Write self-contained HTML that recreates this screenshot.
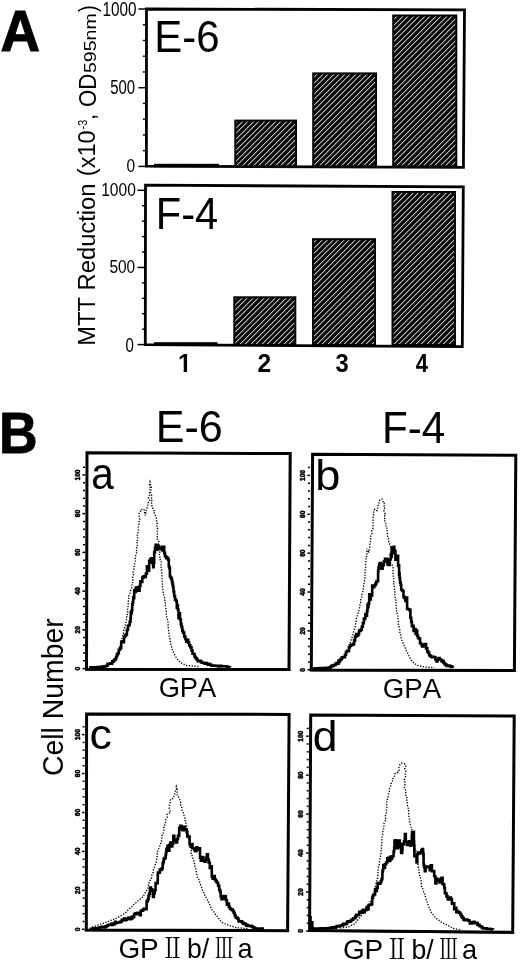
<!DOCTYPE html>
<html><head><meta charset="utf-8"><title>Figure</title>
<style>
html,body{margin:0;padding:0;background:#fff;}
body{width:520px;height:963px;overflow:hidden;}
svg{display:block;font-family:"Liberation Sans",Arial,sans-serif;font-kerning:none;}
</style></head><body>
<svg width="520" height="963" viewBox="0 0 520 963">
<defs>
<pattern id="hatch" patternUnits="userSpaceOnUse" width="11" height="11" shape-rendering="crispEdges">
<rect width="11" height="11" fill="#0b0b0b"/>
<rect x="0" y="0" width="1" height="1" fill="#c4c4c4"/>
<rect x="1" y="0" width="1" height="1" fill="#4c4c4c"/>
<rect x="5" y="0" width="1" height="1" fill="#c4c4c4"/>
<rect x="6" y="0" width="1" height="1" fill="#4c4c4c"/>
<rect x="10" y="1" width="1" height="1" fill="#c4c4c4"/>
<rect x="0" y="1" width="1" height="1" fill="#4c4c4c"/>
<rect x="4" y="1" width="1" height="1" fill="#c4c4c4"/>
<rect x="5" y="1" width="1" height="1" fill="#4c4c4c"/>
<rect x="9" y="2" width="1" height="1" fill="#c4c4c4"/>
<rect x="10" y="2" width="1" height="1" fill="#4c4c4c"/>
<rect x="3" y="2" width="1" height="1" fill="#c4c4c4"/>
<rect x="4" y="2" width="1" height="1" fill="#4c4c4c"/>
<rect x="8" y="3" width="1" height="1" fill="#c4c4c4"/>
<rect x="9" y="3" width="1" height="1" fill="#4c4c4c"/>
<rect x="2" y="3" width="1" height="1" fill="#c4c4c4"/>
<rect x="3" y="3" width="1" height="1" fill="#4c4c4c"/>
<rect x="7" y="4" width="1" height="1" fill="#c4c4c4"/>
<rect x="8" y="4" width="1" height="1" fill="#4c4c4c"/>
<rect x="1" y="4" width="1" height="1" fill="#c4c4c4"/>
<rect x="2" y="4" width="1" height="1" fill="#4c4c4c"/>
<rect x="6" y="5" width="1" height="1" fill="#c4c4c4"/>
<rect x="7" y="5" width="1" height="1" fill="#4c4c4c"/>
<rect x="0" y="5" width="1" height="1" fill="#c4c4c4"/>
<rect x="1" y="5" width="1" height="1" fill="#4c4c4c"/>
<rect x="5" y="6" width="1" height="1" fill="#c4c4c4"/>
<rect x="6" y="6" width="1" height="1" fill="#4c4c4c"/>
<rect x="10" y="6" width="1" height="1" fill="#c4c4c4"/>
<rect x="0" y="6" width="1" height="1" fill="#4c4c4c"/>
<rect x="4" y="7" width="1" height="1" fill="#c4c4c4"/>
<rect x="5" y="7" width="1" height="1" fill="#4c4c4c"/>
<rect x="9" y="7" width="1" height="1" fill="#c4c4c4"/>
<rect x="10" y="7" width="1" height="1" fill="#4c4c4c"/>
<rect x="3" y="8" width="1" height="1" fill="#c4c4c4"/>
<rect x="4" y="8" width="1" height="1" fill="#4c4c4c"/>
<rect x="8" y="8" width="1" height="1" fill="#c4c4c4"/>
<rect x="9" y="8" width="1" height="1" fill="#4c4c4c"/>
<rect x="2" y="9" width="1" height="1" fill="#c4c4c4"/>
<rect x="3" y="9" width="1" height="1" fill="#4c4c4c"/>
<rect x="7" y="9" width="1" height="1" fill="#c4c4c4"/>
<rect x="8" y="9" width="1" height="1" fill="#4c4c4c"/>
<rect x="1" y="10" width="1" height="1" fill="#c4c4c4"/>
<rect x="2" y="10" width="1" height="1" fill="#4c4c4c"/>
<rect x="6" y="10" width="1" height="1" fill="#c4c4c4"/>
<rect x="7" y="10" width="1" height="1" fill="#4c4c4c"/>
</pattern>
</defs>
<rect width="520" height="963" fill="#fff"/>
<text transform="translate(1.75,50.50) scale(0.9565,1) translate(-1.43,0)" font-size="57.26744186046512" font-weight="bold" fill="#000" stroke="#000" stroke-width="1.0" stroke-linejoin="miter">A</text>
<path d="M146.5 9.0L464.5 9.8L463.4 167.4L146.4 166.2Z" fill="none" stroke="#000" stroke-width="2.8" stroke-linejoin="miter"/>
<line x1="138.4" y1="166.40" x2="146.4" y2="166.40" stroke="#000" stroke-width="1.5"/>
<line x1="142.9" y1="150.66" x2="146.4" y2="150.66" stroke="#000" stroke-width="1.4"/>
<line x1="142.9" y1="134.92" x2="146.4" y2="134.92" stroke="#000" stroke-width="1.4"/>
<line x1="142.9" y1="119.18" x2="146.4" y2="119.18" stroke="#000" stroke-width="1.4"/>
<line x1="142.9" y1="103.44" x2="146.4" y2="103.44" stroke="#000" stroke-width="1.4"/>
<line x1="138.4" y1="87.70" x2="146.4" y2="87.70" stroke="#000" stroke-width="1.5"/>
<line x1="142.9" y1="71.96" x2="146.4" y2="71.96" stroke="#000" stroke-width="1.4"/>
<line x1="142.9" y1="56.22" x2="146.4" y2="56.22" stroke="#000" stroke-width="1.4"/>
<line x1="142.9" y1="40.48" x2="146.4" y2="40.48" stroke="#000" stroke-width="1.4"/>
<line x1="142.9" y1="24.74" x2="146.4" y2="24.74" stroke="#000" stroke-width="1.4"/>
<line x1="138.4" y1="9.00" x2="146.4" y2="9.00" stroke="#000" stroke-width="1.5"/>
<rect x="155" y="164.8" width="63" height="1.5" fill="url(#hatch)" stroke="#000" stroke-width="2"/>
<rect x="235.3" y="120.6" width="60.69999999999999" height="45.70000000000002" fill="url(#hatch)" stroke="#000" stroke-width="2"/>
<rect x="313.2" y="73.4" width="62.80000000000001" height="92.9" fill="url(#hatch)" stroke="#000" stroke-width="2"/>
<rect x="393.2" y="15.5" width="63.10000000000002" height="150.8" fill="url(#hatch)" stroke="#000" stroke-width="2"/>
<text transform="translate(157.70,51.90) scale(0.9622,1) translate(-3.58,0)" font-size="43.6" fill="#000" >E-6</text>
<text transform="translate(103.70,15.56) scale(0.7885,1) translate(-1.48,0)" font-size="19.42" fill="#000" >1000</text>
<text transform="translate(110.80,94.01) scale(0.7628,1) translate(-0.79,0)" font-size="19.63" fill="#000" >500</text>
<text transform="translate(127.00,172.32) scale(0.8178,1) translate(-0.74,0)" font-size="18.93" fill="#000" >0</text>
<path d="M145.5 185.2L463.3 186.8L462.3 346.7L145.3 344.7Z" fill="none" stroke="#000" stroke-width="2.8" stroke-linejoin="miter"/>
<line x1="137.5" y1="344.60" x2="145.5" y2="344.60" stroke="#000" stroke-width="1.5"/>
<line x1="142.0" y1="329.17" x2="145.5" y2="329.17" stroke="#000" stroke-width="1.4"/>
<line x1="142.0" y1="313.74" x2="145.5" y2="313.74" stroke="#000" stroke-width="1.4"/>
<line x1="142.0" y1="298.31" x2="145.5" y2="298.31" stroke="#000" stroke-width="1.4"/>
<line x1="142.0" y1="282.88" x2="145.5" y2="282.88" stroke="#000" stroke-width="1.4"/>
<line x1="137.5" y1="267.45" x2="145.5" y2="267.45" stroke="#000" stroke-width="1.5"/>
<line x1="142.0" y1="252.02" x2="145.5" y2="252.02" stroke="#000" stroke-width="1.4"/>
<line x1="142.0" y1="236.59" x2="145.5" y2="236.59" stroke="#000" stroke-width="1.4"/>
<line x1="142.0" y1="221.16" x2="145.5" y2="221.16" stroke="#000" stroke-width="1.4"/>
<line x1="142.0" y1="205.73" x2="145.5" y2="205.73" stroke="#000" stroke-width="1.4"/>
<line x1="137.5" y1="190.30" x2="145.5" y2="190.30" stroke="#000" stroke-width="1.5"/>
<rect x="155" y="343.2" width="61.5" height="1.8000000000000114" fill="url(#hatch)" stroke="#000" stroke-width="2"/>
<rect x="234.3" y="297.3" width="61.0" height="47.69999999999999" fill="url(#hatch)" stroke="#000" stroke-width="2"/>
<rect x="313" y="239.2" width="62" height="105.80000000000001" fill="url(#hatch)" stroke="#000" stroke-width="2"/>
<rect x="392.5" y="192" width="62.5" height="153.0" fill="url(#hatch)" stroke="#000" stroke-width="2"/>
<text transform="translate(159.20,229.20) scale(0.9546,1) translate(-3.58,0)" font-size="43.6" fill="#000" >F-4</text>
<text transform="translate(102.40,196.02) scale(0.8214,1) translate(-1.44,0)" font-size="18.93" fill="#000" >1000</text>
<text transform="translate(110.00,272.72) scale(0.8176,1) translate(-0.76,0)" font-size="18.93" fill="#000" >500</text>
<text transform="translate(126.00,351.56) scale(0.7756,1) translate(-0.76,0)" font-size="19.42" fill="#000" >0</text>
<text transform="translate(258.40,371.80) scale(0.9319,1) translate(-0.91,0)" font-size="26.3" font-weight="bold" fill="#000" >2</text>
<text transform="translate(336.10,371.80) scale(0.9026,1) translate(-0.60,0)" font-size="26.3" font-weight="bold" fill="#000" >3</text>
<text transform="translate(416.10,371.80) scale(0.8376,1) translate(-0.40,0)" font-size="26.3" font-weight="bold" fill="#000" >4</text>
<clipPath id="one"><rect x="170" y="340" width="30" height="28.32"/><rect x="183.64" y="340" width="3.36" height="40"/></clipPath>
<g clip-path="url(#one)"><text transform="translate(177.93,371.8) scale(0.9309,1)" font-size="26.3" font-weight="bold">1</text></g>
<text transform="translate(95.20,343.80) rotate(-90) scale(0.9893,1) translate(-1.97,0)" font-size="24" fill="#000" >MTT Reduction</text>
<text transform="translate(95.40,174.70) rotate(-90) scale(0.9783,1) translate(-1.49,0)" font-size="24" fill="#000" >(x10</text>
<text transform="translate(87.40,128.90) rotate(-90) scale(0.8555,1) translate(-0.56,0)" font-size="12.7" fill="#000" >-3</text>
<text transform="translate(95.40,118.00) rotate(-90) scale(1.0000,1) translate(-2.16,0)" font-size="24" fill="#000" >,</text>
<text transform="translate(95.80,106.00) rotate(-90) scale(0.9254,1) translate(-1.14,0)" font-size="24" fill="#000" >OD</text>
<text transform="translate(95.60,72.30) rotate(-90) scale(1.1519,1) translate(-0.68,0)" font-size="17" fill="#000" >595nm</text>
<text transform="translate(95.60,12.00) rotate(-90) scale(0.8486,1) translate(-0.14,0)" font-size="24" fill="#000" >)</text>
<text transform="translate(2.65,452.70) scale(0.9382,1) translate(-3.81,0)" font-size="56.97674418604652" font-weight="bold" fill="#000" stroke="#000" stroke-width="0.8" stroke-linejoin="miter">B</text>
<text transform="translate(159.20,442.00) scale(0.9879,1) translate(-3.58,0)" font-size="43.6" fill="#000" >E-6</text>
<text transform="translate(385.40,442.70) scale(0.9679,1) translate(-3.58,0)" font-size="43.6" fill="#000" >F-4</text>
<text transform="translate(62.70,774.60) rotate(-90) scale(0.9930,1) translate(-1.45,0)" font-size="28.6" fill="#000" >Cell Number</text>
<path d="M87 452.8L290.2 453.5L289 669.5L86.5 669.2Z" fill="none" stroke="#000" stroke-width="3" stroke-linejoin="miter"/>
<line x1="85.0" y1="669.8000000000001" x2="290.5" y2="670.1" stroke="#000" stroke-width="1.4"/>
<line x1="82.40" y1="668.60" x2="85.0" y2="668.60" stroke="#000" stroke-width="1.5"/>
<line x1="83.00" y1="660.85" x2="85.0" y2="660.85" stroke="#000" stroke-width="1.5"/>
<line x1="83.00" y1="653.10" x2="85.0" y2="653.10" stroke="#000" stroke-width="1.5"/>
<line x1="83.00" y1="645.36" x2="85.0" y2="645.36" stroke="#000" stroke-width="1.5"/>
<line x1="83.00" y1="637.61" x2="85.0" y2="637.61" stroke="#000" stroke-width="1.5"/>
<line x1="82.40" y1="629.86" x2="85.0" y2="629.86" stroke="#000" stroke-width="1.5"/>
<line x1="83.00" y1="622.11" x2="85.0" y2="622.11" stroke="#000" stroke-width="1.5"/>
<line x1="83.00" y1="614.36" x2="85.0" y2="614.36" stroke="#000" stroke-width="1.5"/>
<line x1="83.00" y1="606.62" x2="85.0" y2="606.62" stroke="#000" stroke-width="1.5"/>
<line x1="83.00" y1="598.87" x2="85.0" y2="598.87" stroke="#000" stroke-width="1.5"/>
<line x1="82.40" y1="591.12" x2="85.0" y2="591.12" stroke="#000" stroke-width="1.5"/>
<line x1="83.00" y1="583.37" x2="85.0" y2="583.37" stroke="#000" stroke-width="1.5"/>
<line x1="83.00" y1="575.62" x2="85.0" y2="575.62" stroke="#000" stroke-width="1.5"/>
<line x1="83.00" y1="567.88" x2="85.0" y2="567.88" stroke="#000" stroke-width="1.5"/>
<line x1="83.00" y1="560.13" x2="85.0" y2="560.13" stroke="#000" stroke-width="1.5"/>
<line x1="82.40" y1="552.38" x2="85.0" y2="552.38" stroke="#000" stroke-width="1.5"/>
<line x1="83.00" y1="544.63" x2="85.0" y2="544.63" stroke="#000" stroke-width="1.5"/>
<line x1="83.00" y1="536.88" x2="85.0" y2="536.88" stroke="#000" stroke-width="1.5"/>
<line x1="83.00" y1="529.14" x2="85.0" y2="529.14" stroke="#000" stroke-width="1.5"/>
<line x1="83.00" y1="521.39" x2="85.0" y2="521.39" stroke="#000" stroke-width="1.5"/>
<line x1="82.40" y1="513.64" x2="85.0" y2="513.64" stroke="#000" stroke-width="1.5"/>
<line x1="83.00" y1="505.89" x2="85.0" y2="505.89" stroke="#000" stroke-width="1.5"/>
<line x1="83.00" y1="498.14" x2="85.0" y2="498.14" stroke="#000" stroke-width="1.5"/>
<line x1="83.00" y1="490.40" x2="85.0" y2="490.40" stroke="#000" stroke-width="1.5"/>
<line x1="83.00" y1="482.65" x2="85.0" y2="482.65" stroke="#000" stroke-width="1.5"/>
<line x1="82.40" y1="474.90" x2="85.0" y2="474.90" stroke="#000" stroke-width="1.5"/>
<line x1="83.00" y1="467.15" x2="85.0" y2="467.15" stroke="#000" stroke-width="1.5"/>
<text transform="translate(79.80,670.17) rotate(-90) scale(1.0500,1) translate(-0.25,0)" font-size="6.3" font-weight="bold" fill="#000" stroke="#000" stroke-width="0.5">0</text>
<text transform="translate(79.80,633.29) rotate(-90) scale(1.0500,1) translate(-0.22,0)" font-size="6.3" font-weight="bold" fill="#000" stroke="#000" stroke-width="0.5">20</text>
<text transform="translate(79.80,594.61) rotate(-90) scale(1.0500,1) translate(-0.10,0)" font-size="6.3" font-weight="bold" fill="#000" stroke="#000" stroke-width="0.5">40</text>
<text transform="translate(79.80,555.80) rotate(-90) scale(1.0500,1) translate(-0.23,0)" font-size="6.3" font-weight="bold" fill="#000" stroke="#000" stroke-width="0.5">60</text>
<text transform="translate(79.80,517.08) rotate(-90) scale(1.0500,1) translate(-0.20,0)" font-size="6.3" font-weight="bold" fill="#000" stroke="#000" stroke-width="0.5">80</text>
<text transform="translate(79.80,480.07) rotate(-90) scale(1.0500,1) translate(-0.40,0)" font-size="6.3" font-weight="bold" fill="#000" stroke="#000" stroke-width="0.5">100</text>
<polyline points="112.0,665.0 112.8,663.7 113.6,662.3 114.6,661.0 115.4,659.7 116.2,658.3 116.8,657.1 117.5,655.5 117.7,653.9 118.2,652.5 118.7,651.0 119.2,649.4 119.6,648.0 119.9,646.7 120.5,645.1 120.7,643.4 121.2,642.0 121.8,640.5 122.0,638.9 122.4,637.6 122.7,635.9 123.3,634.1 123.5,632.9 123.5,631.1 124.2,629.4 124.6,627.9 124.6,626.5 125.4,624.9 125.9,623.2 125.9,621.4 126.4,619.9 126.5,618.3 126.7,616.9 127.6,615.1 127.1,613.9 127.8,612.4 127.1,610.4 127.7,609.1 127.5,607.8 128.1,606.1 128.0,604.6 128.4,603.1 128.4,601.3 128.1,599.5 129.0,597.6 128.7,595.8 129.9,593.9 130.1,592.7 130.3,591.2 131.2,589.3 131.6,587.8 132.0,586.2 132.0,584.3 132.6,582.8 132.2,581.4 133.0,579.5 132.4,578.0 132.9,576.3 133.5,574.6 133.6,573.0 133.1,571.7 133.8,570.2 133.9,568.4 134.1,566.9 134.2,565.2 134.7,563.5 135.0,562.0 135.7,560.3 135.2,558.6 135.5,557.2 135.7,555.5 136.6,553.2 135.8,552.1 136.5,550.6 136.4,549.1 136.8,547.4 137.7,546.1 136.8,544.5 137.1,543.0 136.4,541.4 137.8,539.7 137.6,538.5 138.0,536.8 137.2,534.9 137.8,533.6 138.4,531.3 138.5,530.0 138.5,528.5 138.4,527.6 138.4,525.8 138.9,524.3 138.7,523.1 139.2,521.1 139.9,519.4 139.3,518.0 139.1,516.7 139.3,515.2 139.2,513.1 140.5,511.7 140.4,510.0 143.5,509.0 144.2,510.1 144.2,511.6 145.1,513.8 145.1,515.4 146.0,513.4 145.2,512.3 146.2,510.2 146.6,509.0 147.3,507.1 147.4,506.2 148.3,504.2 148.2,502.9 149.2,501.0 149.9,499.3 148.5,497.7 148.8,496.4 149.8,494.5 149.7,493.3 149.9,491.8 149.9,490.1 150.7,488.7 149.9,486.9 149.5,484.8 149.6,483.8 150.0,481.9 150.5,483.5 150.4,485.2 151.5,486.8 151.1,488.7 150.9,489.8 150.8,492.0 150.5,493.2 151.6,495.2 151.4,496.8 151.6,497.8 151.1,499.5 152.2,501.0 151.6,502.5 151.6,504.2 151.9,505.9 151.9,507.4 153.0,508.4 154.0,510.4 153.3,511.7 154.7,513.4 155.3,515.2 155.6,516.6 156.3,518.2 156.4,519.1 156.7,521.4 156.4,522.6 157.3,523.8 156.9,526.3 156.5,527.4 157.7,528.8 157.3,530.6 156.9,531.9 157.4,533.6 157.4,534.9 157.2,536.4 157.9,538.1 157.4,539.4 158.9,541.4 158.4,542.1 158.7,544.3 159.3,545.9 159.0,547.4 158.5,549.1 159.3,550.4 159.8,552.5 159.0,553.6 159.7,555.4 159.7,556.8 160.8,558.8 160.1,559.9 161.2,562.0 161.5,563.6 161.0,565.1 160.7,566.4 161.4,568.1 161.3,569.5 161.7,571.1 161.9,572.5 161.7,574.2 161.9,575.3 161.8,577.0 162.0,578.5 162.1,580.0 162.2,581.3 162.4,583.2 162.5,584.5 162.6,585.8 162.2,587.6 162.8,589.2 163.0,590.2 163.2,592.5 163.7,593.5 163.8,595.4 164.4,596.9 164.9,598.5 164.7,600.0 165.4,601.7 165.4,602.9 165.3,604.7 165.4,606.3 165.8,607.8 165.8,609.6 166.3,610.7 166.2,612.7 166.3,614.0 166.7,615.4 166.7,617.2 167.4,619.2 167.9,620.8 168.1,622.5 168.1,624.1 168.2,625.9 168.2,627.4 168.6,629.0 168.7,630.6 168.8,632.6 169.2,634.3 169.2,635.8 169.8,637.8 170.0,639.4 170.1,641.1 170.5,643.1 170.7,645.0 171.6,646.8 171.9,648.7 172.8,650.4 173.5,652.3 174.5,654.3 175.5,656.3 176.2,657.4 177.1,658.6 178.2,659.9 179.1,661.0 179.9,662.3 181.5,663.1 183.1,663.8 184.7,664.6 186.2,665.4 187.7,665.5 189.2,665.7 190.8,665.8 192.4,665.9 193.9,666.1 195.4,666.2 197.0,666.4 198.5,666.5" fill="none" stroke="#000" stroke-width="1.35" stroke-dasharray="1.3 1.5"/>
<polyline points="89.0,667.5 90.0,667.5 90.0,667.5 91.0,667.5 91.0,667.4 92.0,667.4 92.0,667.4 93.0,667.4 93.0,667.3 94.0,667.3 94.0,667.3 95.0,667.3 95.0,667.2 96.0,667.2 96.0,667.2 97.0,667.2 97.0,667.1 98.0,667.1 98.0,667.1 99.0,667.1 99.0,667.0 100.0,667.0 100.0,667.0 101.0,667.0 101.0,666.8 101.9,666.8 101.9,666.6 102.9,666.6 102.9,666.8 103.9,666.8 103.9,666.3 104.8,666.3 104.8,666.4 105.8,666.4 105.8,666.0 106.7,666.0 106.7,665.7 107.6,665.7 107.6,663.9 108.6,663.9 108.6,663.9 109.5,663.9 109.5,663.7 110.4,663.7 110.4,663.3 111.3,663.3 111.3,663.4 112.2,663.4 112.2,661.4 113.2,661.4 113.2,661.1 114.1,661.1 114.1,659.9 115.0,659.9 115.0,659.2 116.0,659.2 116.0,657.0 116.9,657.0 116.9,654.5 117.8,654.5 117.8,653.2 118.8,653.2 118.8,649.7 120.0,649.7 120.0,648.3 121.2,648.3 121.2,641.7 122.2,641.7 122.2,641.4 123.1,641.4 123.1,642.1 124.0,642.1 124.0,637.0 125.0,637.0 125.0,635.4 126.0,635.4 126.0,634.5 126.9,634.5 126.9,630.0 127.9,630.0 127.9,626.0 128.8,626.0 128.8,625.0 129.7,625.0 129.7,621.8 130.5,621.8 130.5,618.3 130.8,618.3 130.8,612.0 131.2,612.0 131.2,613.4 131.7,613.4 131.7,610.5 132.2,610.5 132.2,604.4 132.7,604.4 132.7,602.1 133.2,602.1 133.2,597.4 133.7,597.4 133.7,598.3 134.2,598.3 134.2,590.4 135.0,590.4 135.0,592.0 135.8,592.0 135.8,587.9 136.9,587.9 136.9,587.4 138.0,587.4 138.0,590.6 138.8,590.6 138.8,590.6 139.6,590.6 139.6,586.0 140.4,586.0 140.4,581.4 141.2,581.4 141.2,582.0 142.3,582.0 142.3,577.6 143.5,577.6 143.5,576.2 144.7,576.2 144.7,576.9 145.8,576.9 145.8,573.7 146.9,573.7 146.9,566.4 148.0,566.4 148.0,570.6 149.2,570.6 149.2,560.8 150.4,560.8 150.4,559.1 151.2,559.1 151.2,558.3 151.9,558.3 151.9,562.9 152.7,562.9 152.7,561.4 153.2,561.4 153.2,567.2 153.7,567.2 153.7,562.6 154.2,562.6 154.2,552.1 155.0,552.1 155.0,548.1 155.7,548.1 155.7,544.7 156.5,544.7 156.5,549.6 157.5,549.6 157.5,545.9 158.6,545.9 158.6,548.0 159.6,548.0 159.6,548.3 160.6,548.3 160.6,549.3 161.6,549.3 161.6,546.9 162.5,546.9 162.5,550.5 163.5,550.5 163.5,546.8 164.2,546.8 164.2,552.9 165.0,552.9 165.0,556.2 166.2,556.2 166.2,558.2 167.3,558.2 167.3,557.9 168.1,557.9 168.1,559.8 168.8,559.8 168.8,566.4 169.3,566.4 169.3,567.9 169.9,567.9 169.9,576.2 170.4,576.2 170.4,577.3 171.2,577.3 171.2,578.9 172.0,578.9 172.0,581.9 172.5,581.9 172.5,584.5 173.0,584.5 173.0,587.1 173.5,587.1 173.5,591.5 174.2,591.5 174.2,596.0 175.0,596.0 175.0,599.6 176.2,599.6 176.2,601.2 176.8,601.2 176.8,607.6 177.3,607.6 177.3,605.1 177.9,605.1 177.9,609.8 178.5,609.8 178.5,618.3 179.3,618.3 179.3,613.2 180.0,613.2 180.0,619.3 180.8,619.3 180.8,624.1 181.5,624.1 181.5,627.1 182.3,627.1 182.3,630.6 183.0,630.6 183.0,632.6 184.2,632.6 184.2,636.6 185.4,636.6 185.4,639.3 186.3,639.3 186.3,641.8 187.3,641.8 187.3,639.9 188.2,639.9 188.2,642.7 189.2,642.7 189.2,645.4 190.3,645.4 190.3,647.3 191.5,647.3 191.5,650.4 192.5,650.4 192.5,653.7 193.6,653.7 193.6,654.0 194.6,654.0 194.6,656.7 195.6,656.7 195.6,658.3 196.7,658.3 196.7,659.5 197.7,659.5 197.7,661.1 198.8,661.1 198.8,661.2 199.8,661.2 199.8,660.9 200.9,660.9 200.9,662.1 201.9,662.1 201.9,662.8 203.0,662.8 203.0,662.7 203.9,662.7 203.9,663.1 204.9,663.1 204.9,663.7 205.8,663.7 205.8,663.1 206.8,663.1 206.8,663.9 207.7,663.9 207.7,664.6 208.6,664.6 208.6,663.9 209.5,663.9 209.5,664.5 210.5,664.5 210.5,664.7 211.4,664.7 211.4,665.6 212.3,665.6 212.3,665.5 213.3,665.5 213.3,665.8 214.4,665.8 214.4,665.5 215.4,665.5 215.4,665.8 216.4,665.8 216.4,665.9 217.5,665.9 217.5,665.7 218.5,665.7 218.5,666.5 219.5,666.5 219.5,666.4 220.5,666.4 220.5,665.8 221.6,665.8 221.6,666.3 222.6,666.3 222.6,666.2 223.6,666.2 223.6,666.3 224.6,666.3 224.6,666.3 225.7,666.3 225.7,666.2 226.8,666.2 226.8,666.7 227.8,666.7 227.8,667.0 228.9,667.0 228.9,667.2 230.0,667.2 230.0,667.5" fill="none" stroke="#000" stroke-width="2.6" stroke-linejoin="miter" stroke-miterlimit="2"/>
<text transform="translate(93.00,488.60) scale(0.9203,1) translate(-1.87,0)" font-size="44" fill="#000" >a</text>
<path d="M312.6 454.3L515.8 455.2L514.4 670.5L311.3 670Z" fill="none" stroke="#000" stroke-width="3" stroke-linejoin="miter"/>
<line x1="309.8" y1="670.6" x2="515.9" y2="671.1" stroke="#000" stroke-width="1.4"/>
<line x1="307.40" y1="669.80" x2="310.0" y2="669.80" stroke="#000" stroke-width="1.5"/>
<line x1="308.00" y1="662.02" x2="310.0" y2="662.02" stroke="#000" stroke-width="1.5"/>
<line x1="308.00" y1="654.25" x2="310.0" y2="654.25" stroke="#000" stroke-width="1.5"/>
<line x1="308.00" y1="646.47" x2="310.0" y2="646.47" stroke="#000" stroke-width="1.5"/>
<line x1="308.00" y1="638.70" x2="310.0" y2="638.70" stroke="#000" stroke-width="1.5"/>
<line x1="307.40" y1="630.92" x2="310.0" y2="630.92" stroke="#000" stroke-width="1.5"/>
<line x1="308.00" y1="623.14" x2="310.0" y2="623.14" stroke="#000" stroke-width="1.5"/>
<line x1="308.00" y1="615.37" x2="310.0" y2="615.37" stroke="#000" stroke-width="1.5"/>
<line x1="308.00" y1="607.59" x2="310.0" y2="607.59" stroke="#000" stroke-width="1.5"/>
<line x1="308.00" y1="599.82" x2="310.0" y2="599.82" stroke="#000" stroke-width="1.5"/>
<line x1="307.40" y1="592.04" x2="310.0" y2="592.04" stroke="#000" stroke-width="1.5"/>
<line x1="308.00" y1="584.26" x2="310.0" y2="584.26" stroke="#000" stroke-width="1.5"/>
<line x1="308.00" y1="576.49" x2="310.0" y2="576.49" stroke="#000" stroke-width="1.5"/>
<line x1="308.00" y1="568.71" x2="310.0" y2="568.71" stroke="#000" stroke-width="1.5"/>
<line x1="308.00" y1="560.94" x2="310.0" y2="560.94" stroke="#000" stroke-width="1.5"/>
<line x1="307.40" y1="553.16" x2="310.0" y2="553.16" stroke="#000" stroke-width="1.5"/>
<line x1="308.00" y1="545.38" x2="310.0" y2="545.38" stroke="#000" stroke-width="1.5"/>
<line x1="308.00" y1="537.61" x2="310.0" y2="537.61" stroke="#000" stroke-width="1.5"/>
<line x1="308.00" y1="529.83" x2="310.0" y2="529.83" stroke="#000" stroke-width="1.5"/>
<line x1="308.00" y1="522.06" x2="310.0" y2="522.06" stroke="#000" stroke-width="1.5"/>
<line x1="307.40" y1="514.28" x2="310.0" y2="514.28" stroke="#000" stroke-width="1.5"/>
<line x1="308.00" y1="506.50" x2="310.0" y2="506.50" stroke="#000" stroke-width="1.5"/>
<line x1="308.00" y1="498.73" x2="310.0" y2="498.73" stroke="#000" stroke-width="1.5"/>
<line x1="308.00" y1="490.95" x2="310.0" y2="490.95" stroke="#000" stroke-width="1.5"/>
<line x1="308.00" y1="483.18" x2="310.0" y2="483.18" stroke="#000" stroke-width="1.5"/>
<line x1="307.40" y1="475.40" x2="310.0" y2="475.40" stroke="#000" stroke-width="1.5"/>
<line x1="308.00" y1="467.62" x2="310.0" y2="467.62" stroke="#000" stroke-width="1.5"/>
<text transform="translate(304.80,671.37) rotate(-90) scale(1.0500,1) translate(-0.25,0)" font-size="6.3" font-weight="bold" fill="#000" stroke="#000" stroke-width="0.5">0</text>
<text transform="translate(304.80,634.35) rotate(-90) scale(1.0500,1) translate(-0.22,0)" font-size="6.3" font-weight="bold" fill="#000" stroke="#000" stroke-width="0.5">20</text>
<text transform="translate(304.80,595.53) rotate(-90) scale(1.0500,1) translate(-0.10,0)" font-size="6.3" font-weight="bold" fill="#000" stroke="#000" stroke-width="0.5">40</text>
<text transform="translate(304.80,556.58) rotate(-90) scale(1.0500,1) translate(-0.23,0)" font-size="6.3" font-weight="bold" fill="#000" stroke="#000" stroke-width="0.5">60</text>
<text transform="translate(304.80,517.72) rotate(-90) scale(1.0500,1) translate(-0.20,0)" font-size="6.3" font-weight="bold" fill="#000" stroke="#000" stroke-width="0.5">80</text>
<text transform="translate(304.80,480.57) rotate(-90) scale(1.0500,1) translate(-0.40,0)" font-size="6.3" font-weight="bold" fill="#000" stroke="#000" stroke-width="0.5">100</text>
<polyline points="330.0,667.5 331.4,666.9 332.9,666.4 334.3,665.9 335.7,665.2 337.2,664.7 338.5,664.0 340.0,663.5 340.7,662.1 341.6,660.8 342.4,659.4 343.2,658.2 344.1,656.7 344.9,655.3 345.6,654.1 346.6,652.7 347.2,651.4 347.8,650.0 348.4,648.5 348.8,646.8 349.4,645.6 349.8,644.1 350.3,642.5 350.9,640.9 351.2,639.6 351.9,638.1 352.3,636.6 352.8,635.3 353.1,633.9 353.5,632.2 354.2,630.8 354.4,628.9 354.9,627.8 355.2,626.5 355.3,624.6 355.7,623.1 356.1,621.4 355.9,619.6 356.4,618.4 357.0,617.3 357.3,615.4 357.8,613.7 358.4,612.4 358.8,610.7 359.1,609.2 359.6,607.4 360.0,605.8 359.9,604.5 360.6,602.5 361.1,601.1 360.8,599.6 361.6,597.7 362.0,595.9 361.9,594.4 362.6,592.5 363.1,590.8 363.4,589.2 363.4,587.3 363.5,586.3 364.2,584.6 364.0,583.4 364.1,581.7 364.9,580.0 364.9,578.4 364.8,576.9 364.9,575.6 365.6,573.7 364.9,572.4 364.9,570.9 365.5,569.2 365.6,567.4 365.8,565.9 365.4,564.5 365.6,563.3 365.9,561.5 366.2,560.3 366.1,558.5 366.7,556.9 366.0,555.8 367.3,553.3 366.7,552.2 367.2,550.7 366.9,548.8 368.1,550.7 368.8,551.8 369.4,549.7 369.5,548.2 369.9,546.3 369.7,544.5 370.2,542.9 370.4,541.7 371.0,540.4 370.5,538.4 370.2,537.4 371.1,535.4 371.9,533.6 372.2,532.3 371.7,530.9 372.8,528.8 372.8,527.8 372.8,526.3 373.2,524.6 373.1,523.0 373.2,521.3 373.0,520.4 373.3,518.4 372.8,516.7 373.5,515.6 373.7,514.0 373.7,512.7 373.7,510.7 374.9,509.2 376.9,510.7 377.3,509.4 377.9,507.4 378.3,506.2 378.1,504.8 378.9,503.0 379.8,501.9 379.7,500.1 382.0,499.1 382.6,500.3 383.0,501.7 384.7,502.3 383.8,504.7 384.1,505.9 385.1,507.7 383.8,509.5 384.0,511.1 384.5,512.4 385.2,513.9 384.3,515.0 385.3,517.1 384.6,518.7 385.2,520.2 384.4,521.5 385.8,523.3 386.0,524.0 386.0,526.3 387.1,527.5 386.4,529.2 387.1,530.7 387.5,532.1 387.5,533.7 387.8,535.2 387.5,537.2 388.4,538.3 388.7,540.2 388.6,541.5 389.4,543.1 389.6,544.1 390.7,546.2 390.8,547.6 390.9,549.1 390.5,550.6 390.6,552.2 390.4,554.0 390.4,555.5 390.5,557.0 391.2,558.5 390.6,560.0 390.8,561.1 390.6,563.0 391.6,564.5 392.9,566.2 393.1,567.7 392.8,569.1 392.9,570.6 393.0,571.9 393.0,573.8 393.0,575.3 393.5,576.9 394.0,578.0 393.4,579.7 393.9,582.0 393.1,583.1 394.1,584.6 394.3,585.8 394.5,587.8 394.4,589.2 394.8,590.7 394.8,592.2 394.4,593.9 395.2,595.5 395.1,596.9 395.6,598.5 395.9,600.3 395.6,601.2 396.1,603.4 396.2,605.0 396.0,606.5 396.4,608.2 395.9,609.8 397.3,612.0 397.0,613.4 397.6,615.1 398.3,617.0 397.9,618.7 398.2,620.1 398.5,621.5 398.7,623.0 398.4,624.3 398.8,626.0 399.3,627.7 399.7,629.2 399.7,630.7 399.8,632.3 400.5,633.9 400.6,635.4 401.1,637.0 401.3,638.6 401.8,640.1 402.3,641.5 402.9,642.9 403.8,644.7 404.2,646.1 405.1,647.6 405.9,649.0 406.4,650.7 407.4,652.2 407.9,653.8 408.7,655.3 409.7,656.8 410.3,658.6 411.2,660.0 411.9,661.5 413.4,662.5 414.7,663.5 416.0,664.4 417.3,665.4 418.8,665.7 420.4,666.0 421.9,666.4 423.5,666.7 425.0,667.0 426.6,667.1 428.1,667.2 429.6,667.3 431.1,667.5 432.7,667.6 434.2,667.7" fill="none" stroke="#000" stroke-width="1.35" stroke-dasharray="1.3 1.5"/>
<polyline points="313.0,668.5 314.0,668.5 314.0,668.5 314.9,668.5 314.9,668.4 315.9,668.4 315.9,668.4 316.9,668.4 316.9,668.3 317.8,668.3 317.8,668.2 318.8,668.2 318.8,668.2 319.8,668.2 319.8,668.1 320.8,668.1 320.8,668.1 321.7,668.1 321.7,668.1 322.7,668.1 322.7,668.0 323.7,668.0 323.7,668.0 324.6,668.0 324.6,668.0 325.6,668.0 325.6,667.8 326.6,667.8 326.6,667.8 327.5,667.8 327.5,667.7 328.5,667.7 328.5,667.7 329.6,667.7 329.6,667.4 330.6,667.4 330.6,666.8 331.7,666.8 331.7,665.5 332.7,665.5 332.7,665.9 333.8,665.9 333.8,665.0 334.7,665.0 334.7,664.9 335.7,664.9 335.7,663.5 336.6,663.5 336.6,663.1 337.6,663.1 337.6,663.6 338.5,663.6 338.5,660.8 339.6,660.8 339.6,660.0 340.8,660.0 340.8,659.0 341.9,659.0 341.9,657.4 343.0,657.4 343.0,657.0 344.0,657.0 344.0,657.3 345.0,657.3 345.0,654.8 346.0,654.8 346.0,652.0 347.0,652.0 347.0,650.8 348.0,650.8 348.0,650.9 349.0,650.9 349.0,647.2 350.0,647.2 350.0,645.6 351.0,645.6 351.0,644.9 352.0,644.9 352.0,644.8 353.0,644.8 353.0,644.1 354.1,644.1 354.1,640.4 355.1,640.4 355.1,636.6 356.2,636.6 356.2,634.1 357.1,634.1 357.1,635.7 358.0,635.7 358.0,634.2 359.0,634.2 359.0,630.5 359.9,630.5 359.9,630.9 360.8,630.9 360.8,629.7 361.8,629.7 361.8,626.7 362.8,626.7 362.8,623.2 363.8,623.2 363.8,619.1 364.6,619.1 364.6,618.3 365.4,618.3 365.4,614.1 366.2,614.1 366.2,615.8 367.0,615.8 367.0,611.1 367.5,611.1 367.5,604.7 368.0,604.7 368.0,607.2 368.5,607.2 368.5,603.4 369.2,603.4 369.2,594.3 370.0,594.3 370.0,599.5 370.8,599.5 370.8,594.9 371.5,594.9 371.5,595.5 372.2,595.5 372.2,585.5 373.0,585.5 373.0,587.2 374.2,587.2 374.2,585.5 375.4,585.5 375.4,583.5 376.5,583.5 376.5,581.2 377.7,581.2 377.7,581.1 378.1,581.1 378.1,570.9 378.5,570.9 378.5,567.6 379.2,567.6 379.2,564.1 380.0,564.1 380.0,563.1 380.8,563.1 380.8,564.6 381.5,564.6 381.5,568.7 382.6,568.7 382.6,565.3 383.8,565.3 383.8,561.6 385.0,561.6 385.0,558.9 386.2,558.9 386.2,558.8 387.4,558.8 387.4,564.1 388.5,564.1 388.5,565.0 389.6,565.0 389.6,559.5 390.8,559.5 390.8,554.5 391.3,554.5 391.3,556.7 391.8,556.7 391.8,547.6 392.3,547.6 392.3,548.1 393.1,548.1 393.1,550.3 393.8,550.3 393.8,546.9 394.3,546.9 394.3,553.1 394.9,553.1 394.9,550.8 395.4,550.8 395.4,559.8 396.4,559.8 396.4,559.0 397.3,559.0 397.3,555.7 398.1,555.7 398.1,565.6 398.8,565.6 398.8,565.4 399.1,565.4 399.1,574.6 399.3,574.6 399.3,573.2 399.6,573.2 399.6,578.1 400.1,578.1 400.1,582.7 400.7,582.7 400.7,584.8 401.2,584.8 401.2,589.8 402.4,589.8 402.4,591.0 403.5,591.0 403.5,596.9 404.4,596.9 404.4,598.0 405.4,598.0 405.4,601.0 406.3,601.0 406.3,597.6 407.1,597.6 407.1,608.7 408.0,608.7 408.0,609.3 409.2,609.3 409.2,609.9 410.4,609.9 410.4,617.7 411.2,617.7 411.2,621.7 411.9,621.7 411.9,626.1 412.7,626.1 412.7,625.9 413.6,625.9 413.6,631.0 414.6,631.0 414.6,629.0 415.6,629.0 415.6,633.9 416.5,633.9 416.5,630.6 417.2,630.6 417.2,635.7 418.0,635.7 418.0,638.0 419.0,638.0 419.0,638.5 420.0,638.5 420.0,643.0 421.0,643.0 421.0,644.3 422.0,644.3 422.0,646.5 423.0,646.5 423.0,646.1 424.0,646.1 424.0,644.8 425.0,644.8 425.0,644.0 426.1,644.0 426.1,648.4 427.3,648.4 427.3,651.6 428.3,651.6 428.3,652.7 429.2,652.7 429.2,655.2 430.2,655.2 430.2,656.1 431.2,656.1 431.2,656.8 432.2,656.8 432.2,657.1 433.2,657.1 433.2,656.9 434.2,656.9 434.2,657.2 435.4,657.2 435.4,659.5 436.5,659.5 436.5,661.5 437.5,661.5 437.5,659.5 438.6,659.5 438.6,658.1 439.6,658.1 439.6,659.6 440.6,659.6 440.6,659.7 441.6,659.7 441.6,661.5 442.5,661.5 442.5,660.8 443.5,660.8 443.5,662.8 444.5,662.8 444.5,664.1 445.5,664.1 445.5,664.5 446.5,664.5 446.5,666.0 447.8,666.0 447.8,665.9 449.0,665.9 449.0,665.5 449.9,665.5 449.9,666.4 450.8,666.4 450.8,666.2 451.6,666.2 451.6,666.9 452.5,666.9 452.5,668.0" fill="none" stroke="#000" stroke-width="2.6" stroke-linejoin="miter" stroke-miterlimit="2"/>
<text transform="translate(318.20,489.60) scale(1.0748,1) translate(-2.71,0)" font-size="42" fill="#000" >b</text>
<path d="M86.6 713.9L289.1 714.4L287.6 930.7L86.3 930Z" fill="none" stroke="#000" stroke-width="3" stroke-linejoin="miter"/>
<line x1="84.8" y1="930.6" x2="289.1" y2="931.3000000000001" stroke="#000" stroke-width="1.4"/>
<line x1="82.00" y1="929.30" x2="84.6" y2="929.30" stroke="#000" stroke-width="1.5"/>
<line x1="82.60" y1="921.51" x2="84.6" y2="921.51" stroke="#000" stroke-width="1.5"/>
<line x1="82.60" y1="913.72" x2="84.6" y2="913.72" stroke="#000" stroke-width="1.5"/>
<line x1="82.60" y1="905.94" x2="84.6" y2="905.94" stroke="#000" stroke-width="1.5"/>
<line x1="82.60" y1="898.15" x2="84.6" y2="898.15" stroke="#000" stroke-width="1.5"/>
<line x1="82.00" y1="890.36" x2="84.6" y2="890.36" stroke="#000" stroke-width="1.5"/>
<line x1="82.60" y1="882.57" x2="84.6" y2="882.57" stroke="#000" stroke-width="1.5"/>
<line x1="82.60" y1="874.78" x2="84.6" y2="874.78" stroke="#000" stroke-width="1.5"/>
<line x1="82.60" y1="867.00" x2="84.6" y2="867.00" stroke="#000" stroke-width="1.5"/>
<line x1="82.60" y1="859.21" x2="84.6" y2="859.21" stroke="#000" stroke-width="1.5"/>
<line x1="82.00" y1="851.42" x2="84.6" y2="851.42" stroke="#000" stroke-width="1.5"/>
<line x1="82.60" y1="843.63" x2="84.6" y2="843.63" stroke="#000" stroke-width="1.5"/>
<line x1="82.60" y1="835.84" x2="84.6" y2="835.84" stroke="#000" stroke-width="1.5"/>
<line x1="82.60" y1="828.06" x2="84.6" y2="828.06" stroke="#000" stroke-width="1.5"/>
<line x1="82.60" y1="820.27" x2="84.6" y2="820.27" stroke="#000" stroke-width="1.5"/>
<line x1="82.00" y1="812.48" x2="84.6" y2="812.48" stroke="#000" stroke-width="1.5"/>
<line x1="82.60" y1="804.69" x2="84.6" y2="804.69" stroke="#000" stroke-width="1.5"/>
<line x1="82.60" y1="796.90" x2="84.6" y2="796.90" stroke="#000" stroke-width="1.5"/>
<line x1="82.60" y1="789.12" x2="84.6" y2="789.12" stroke="#000" stroke-width="1.5"/>
<line x1="82.60" y1="781.33" x2="84.6" y2="781.33" stroke="#000" stroke-width="1.5"/>
<line x1="82.00" y1="773.54" x2="84.6" y2="773.54" stroke="#000" stroke-width="1.5"/>
<line x1="82.60" y1="765.75" x2="84.6" y2="765.75" stroke="#000" stroke-width="1.5"/>
<line x1="82.60" y1="757.96" x2="84.6" y2="757.96" stroke="#000" stroke-width="1.5"/>
<line x1="82.60" y1="750.18" x2="84.6" y2="750.18" stroke="#000" stroke-width="1.5"/>
<line x1="82.60" y1="742.39" x2="84.6" y2="742.39" stroke="#000" stroke-width="1.5"/>
<line x1="82.00" y1="734.60" x2="84.6" y2="734.60" stroke="#000" stroke-width="1.5"/>
<line x1="82.60" y1="726.81" x2="84.6" y2="726.81" stroke="#000" stroke-width="1.5"/>
<text transform="translate(79.60,930.87) rotate(-90) scale(1.0500,1) translate(-0.25,0)" font-size="6.3" font-weight="bold" fill="#000" stroke="#000" stroke-width="0.5">0</text>
<text transform="translate(79.60,893.79) rotate(-90) scale(1.0500,1) translate(-0.22,0)" font-size="6.3" font-weight="bold" fill="#000" stroke="#000" stroke-width="0.5">20</text>
<text transform="translate(79.60,854.91) rotate(-90) scale(1.0500,1) translate(-0.10,0)" font-size="6.3" font-weight="bold" fill="#000" stroke="#000" stroke-width="0.5">40</text>
<text transform="translate(79.60,815.90) rotate(-90) scale(1.0500,1) translate(-0.23,0)" font-size="6.3" font-weight="bold" fill="#000" stroke="#000" stroke-width="0.5">60</text>
<text transform="translate(79.60,776.98) rotate(-90) scale(1.0500,1) translate(-0.20,0)" font-size="6.3" font-weight="bold" fill="#000" stroke="#000" stroke-width="0.5">80</text>
<text transform="translate(79.60,739.77) rotate(-90) scale(1.0500,1) translate(-0.40,0)" font-size="6.3" font-weight="bold" fill="#000" stroke="#000" stroke-width="0.5">100</text>
<polyline points="92.0,927.0 94.6,926.2 96.2,925.7 97.7,925.2 99.2,924.8 100.7,924.2 102.3,923.8 103.8,923.2 105.3,922.6 106.9,922.0 108.6,921.4 110.2,920.9 111.6,920.2 113.2,919.5 114.6,918.9 116.2,918.4 117.8,917.7 119.0,916.9 120.1,916.2 121.5,915.3 122.8,914.5 124.2,913.9 125.2,913.1 126.7,911.8 127.7,910.5 129.0,909.4 130.2,908.0 131.5,906.9 132.8,905.7 133.7,904.6 134.9,903.6 136.3,902.4 137.5,901.2 138.6,900.4 139.7,899.6 141.0,898.5 142.1,897.5 143.2,896.5 143.9,895.0 144.1,893.8 145.6,892.5 146.3,891.3 147.1,889.8 147.9,888.6 147.9,886.9 148.4,885.4 149.2,883.7 149.2,882.5 150.2,881.0 150.3,879.4 151.5,878.0 151.5,876.2 152.2,874.4 153.2,872.3 153.1,870.7 153.7,868.9 154.3,867.4 154.9,865.3 155.4,864.3 155.9,862.8 156.5,861.2 156.6,859.1 156.4,857.7 157.1,856.4 157.0,854.5 157.7,852.4 157.5,851.0 158.2,849.5 159.1,847.9 159.7,846.4 160.0,845.1 160.6,843.6 161.6,841.9 161.4,840.4 161.6,838.9 161.7,837.2 162.2,835.3 163.2,833.6 163.5,832.3 163.8,830.4 164.0,829.3 163.9,827.4 165.0,825.8 164.5,824.1 165.2,822.7 165.6,821.4 165.9,819.5 167.0,817.6 167.3,816.6 167.1,814.4 168.6,813.3 170.5,812.3 170.4,811.5 169.5,809.6 169.2,808.3 169.4,806.5 169.4,805.1 169.8,803.6 170.2,802.1 170.4,800.7 170.6,799.1 173.4,798.3 173.8,797.4 174.2,795.3 174.7,794.2 175.4,792.3 175.3,790.5 176.5,789.1 176.0,786.9 176.2,786.4 176.5,787.4 177.2,789.0 177.3,790.3 177.2,792.6 177.5,794.0 177.4,795.3 178.7,797.2 178.8,798.6 179.9,799.8 180.6,801.3 180.7,803.0 180.4,804.6 181.3,805.9 181.8,808.0 182.1,809.7 182.2,810.8 183.4,812.8 183.7,814.1 184.1,816.0 184.6,817.5 185.2,819.0 185.0,820.4 186.2,822.1 185.9,823.6 186.4,825.1 186.9,826.8 187.2,828.3 187.7,829.9 188.0,831.7 188.3,832.9 188.4,834.8 189.0,836.3 188.9,838.2 189.2,840.0 189.5,841.7 189.5,842.8 190.5,844.9 190.5,846.5 190.8,847.9 191.2,849.6 191.5,851.4 191.0,852.8 192.2,854.5 192.1,856.0 192.5,857.4 193.0,859.0 193.7,860.5 194.2,862.3 194.5,863.7 194.5,865.0 194.9,866.5 195.3,868.1 196.2,869.9 196.1,871.1 196.6,872.9 196.8,874.4 197.0,876.3 198.0,878.1 198.6,879.2 199.4,880.8 199.7,882.3 200.1,884.1 201.0,885.6 201.4,886.9 201.9,888.6 202.4,890.1 203.5,891.7 203.8,893.2 204.5,894.5 205.2,896.3 206.4,897.6 206.8,899.2 208.1,900.9 208.4,902.2 209.1,904.0 210.3,905.4 210.7,906.9 211.3,908.5 212.2,910.1 213.0,911.1 214.2,912.4 215.1,913.7 215.9,915.0 217.0,916.1 218.0,917.5 218.8,918.5 219.6,919.8 220.7,921.0 221.4,922.2 223.0,922.9 224.5,923.5 226.2,924.2 227.7,924.8 229.1,925.4 230.7,925.9 232.3,926.4 233.8,926.8 235.4,927.3 236.9,927.7 238.4,927.8 240.0,927.9 241.5,928.0 243.1,928.2 244.6,928.3 246.2,928.4 247.7,928.5" fill="none" stroke="#000" stroke-width="1.35" stroke-dasharray="1.3 1.5"/>
<polyline points="90.0,929.0 91.0,929.0 91.0,928.9 92.0,928.9 92.0,928.7 93.1,928.7 93.1,928.6 94.1,928.6 94.1,928.4 95.1,928.4 95.1,928.3 96.1,928.3 96.1,928.1 97.2,928.1 97.2,928.0 98.2,928.0 98.2,927.9 99.2,927.9 99.2,927.6 100.2,927.6 100.2,927.3 101.3,927.3 101.3,927.1 102.3,927.1 102.3,926.9 103.3,926.9 103.3,926.7 104.4,926.7 104.4,927.4 105.4,927.4 105.4,926.4 106.4,926.4 106.4,926.2 107.3,926.2 107.3,925.3 108.2,925.3 108.2,925.0 109.2,925.0 109.2,924.9 110.2,924.9 110.2,924.8 111.1,924.8 111.1,923.9 112.0,923.9 112.0,924.9 113.0,924.9 113.0,923.5 114.0,923.5 114.0,924.1 115.0,924.1 115.0,921.9 115.9,921.9 115.9,922.9 116.9,922.9 116.9,922.8 117.9,922.8 117.9,922.5 118.8,922.5 118.8,922.5 119.8,922.5 119.8,922.0 120.8,922.0 120.8,921.6 121.8,921.6 121.8,919.8 122.8,919.8 122.8,920.2 123.9,920.2 123.9,918.5 124.9,918.5 124.9,920.3 125.9,920.3 125.9,919.6 126.9,919.6 126.9,918.8 128.0,918.8 128.0,917.9 129.0,917.9 129.0,917.6 130.0,917.6 130.0,919.2 131.0,919.2 131.0,918.7 132.1,918.7 132.1,916.6 133.1,916.6 133.1,917.3 134.1,917.3 134.1,914.2 135.2,914.2 135.2,913.3 136.2,913.3 136.2,914.1 137.1,914.1 137.1,913.1 138.0,913.1 138.0,912.8 139.0,912.8 139.0,912.9 139.9,912.9 139.9,915.3 140.8,915.3 140.8,910.8 141.7,910.8 141.7,910.7 142.6,910.7 142.6,910.0 143.6,910.0 143.6,908.8 144.5,908.8 144.5,909.0 145.4,909.0 145.4,909.1 146.6,909.1 146.6,901.5 147.7,901.5 147.7,899.4 148.5,899.4 148.5,895.7 149.2,895.7 149.2,893.6 150.0,893.6 150.0,887.5 151.0,887.5 151.0,889.3 152.0,889.3 152.0,890.6 153.0,890.6 153.0,897.0 153.8,897.0 153.8,893.4 154.6,893.4 154.6,890.1 155.6,890.1 155.6,883.0 156.7,883.0 156.7,883.2 157.7,883.2 157.7,879.5 157.8,879.5 157.8,874.9 157.9,874.9 157.9,872.5 158.9,872.5 158.9,872.7 159.8,872.7 159.8,869.6 160.8,869.6 160.8,870.0 161.8,870.0 161.8,868.3 162.7,868.3 162.7,863.4 163.2,863.4 163.2,861.9 163.7,861.9 163.7,858.9 164.6,858.9 164.6,858.1 165.6,858.1 165.6,854.8 166.1,854.8 166.1,851.8 166.5,851.8 166.5,848.9 167.5,848.9 167.5,845.8 168.5,845.8 168.5,850.7 169.4,850.7 169.4,844.7 170.4,844.7 170.4,842.5 171.4,842.5 171.4,846.4 172.3,846.4 172.3,843.7 173.3,843.7 173.3,835.8 174.3,835.8 174.3,840.7 175.2,840.7 175.2,840.4 176.2,840.4 176.2,842.4 177.1,842.4 177.1,839.0 178.0,839.0 178.0,835.7 179.2,835.7 179.2,827.9 180.4,827.9 180.4,825.7 181.5,825.7 181.5,829.2 182.6,829.2 182.6,830.3 183.7,830.3 183.7,826.9 184.8,826.9 184.8,829.0 185.8,829.0 185.8,830.0 186.7,830.0 186.7,832.2 187.2,832.2 187.2,835.7 187.7,835.7 187.7,837.0 188.6,837.0 188.6,836.6 189.6,836.6 189.6,844.5 190.6,844.5 190.6,846.8 191.6,846.8 191.6,844.1 192.5,844.1 192.5,848.3 193.5,848.3 193.5,848.3 194.4,848.3 194.4,850.2 195.4,850.2 195.4,851.1 196.4,851.1 196.4,847.3 197.3,847.3 197.3,849.5 198.3,849.5 198.3,849.7 199.1,849.7 199.1,848.2 200.0,848.2 200.0,857.7 200.8,857.7 200.8,860.8 202.0,860.8 202.0,857.1 203.0,857.1 203.0,860.3 204.0,860.3 204.0,860.4 204.6,860.4 204.6,861.6 205.8,861.6 205.8,857.9 206.9,857.9 206.9,854.2 207.9,854.2 207.9,859.6 208.8,859.6 208.8,862.6 209.8,862.6 209.8,867.9 210.8,867.9 210.8,866.4 211.8,866.4 211.8,876.8 212.7,876.8 212.7,878.6 213.7,878.6 213.7,876.1 214.8,876.1 214.8,879.5 215.8,879.5 215.8,881.1 216.9,881.1 216.9,882.8 218.1,882.8 218.1,885.8 219.2,885.8 219.2,889.8 220.0,889.8 220.0,891.8 220.7,891.8 220.7,896.4 221.5,896.4 221.5,899.2 222.5,899.2 222.5,898.7 223.6,898.7 223.6,896.0 224.6,896.0 224.6,896.3 225.8,896.3 225.8,900.1 226.9,900.1 226.9,904.6 227.9,904.6 227.9,903.6 228.9,903.6 228.9,906.7 229.8,906.7 229.8,908.5 230.8,908.5 230.8,909.2 231.8,909.2 231.8,909.6 232.7,909.6 232.7,911.0 233.7,911.0 233.7,912.8 234.6,912.8 234.6,915.3 235.6,915.3 235.6,917.5 236.6,917.5 236.6,917.6 237.5,917.6 237.5,918.8 238.5,918.8 238.5,921.1 239.5,921.1 239.5,921.4 240.5,921.4 240.5,921.2 241.5,921.2 241.5,921.8 242.4,921.8 242.4,922.9 243.4,922.9 243.4,923.9 244.3,923.9 244.3,923.6 245.3,923.6 245.3,924.3 246.2,924.3 246.2,925.6 247.1,925.6 247.1,925.1 248.0,925.1 248.0,925.8 249.0,925.8 249.0,926.0 249.9,926.0 249.9,926.0 250.8,926.0 250.8,925.8 251.7,925.8 251.7,926.6 252.6,926.6 252.6,927.0 253.6,927.0 253.6,927.6 254.5,927.6 254.5,928.0 255.4,928.0 255.4,928.5 256.4,928.5 256.4,928.5 257.3,928.5 257.3,928.5 258.3,928.5 258.3,928.5 259.2,928.5 259.2,928.5 260.2,928.5 260.2,928.5 261.1,928.5 261.1,928.5 262.1,928.5 262.1,928.5 263.0,928.5 263.0,928.5 264.0,928.5 264.0,928.5" fill="none" stroke="#000" stroke-width="2.6" stroke-linejoin="miter" stroke-miterlimit="2"/>
<text transform="translate(91.50,749.10) scale(1.0410,1) translate(-1.83,0)" font-size="43" fill="#000" >c</text>
<path d="M310.7 715L514.2 716.1L512.7 932.4L309.6 930.5Z" fill="none" stroke="#000" stroke-width="3" stroke-linejoin="miter"/>
<line x1="308.1" y1="931.1" x2="514.2" y2="933.0" stroke="#000" stroke-width="1.4"/>
<line x1="306.10" y1="931.00" x2="308.7" y2="931.00" stroke="#000" stroke-width="1.5"/>
<line x1="306.70" y1="923.21" x2="308.7" y2="923.21" stroke="#000" stroke-width="1.5"/>
<line x1="306.70" y1="915.42" x2="308.7" y2="915.42" stroke="#000" stroke-width="1.5"/>
<line x1="306.70" y1="907.62" x2="308.7" y2="907.62" stroke="#000" stroke-width="1.5"/>
<line x1="306.70" y1="899.83" x2="308.7" y2="899.83" stroke="#000" stroke-width="1.5"/>
<line x1="306.10" y1="892.04" x2="308.7" y2="892.04" stroke="#000" stroke-width="1.5"/>
<line x1="306.70" y1="884.25" x2="308.7" y2="884.25" stroke="#000" stroke-width="1.5"/>
<line x1="306.70" y1="876.46" x2="308.7" y2="876.46" stroke="#000" stroke-width="1.5"/>
<line x1="306.70" y1="868.66" x2="308.7" y2="868.66" stroke="#000" stroke-width="1.5"/>
<line x1="306.70" y1="860.87" x2="308.7" y2="860.87" stroke="#000" stroke-width="1.5"/>
<line x1="306.10" y1="853.08" x2="308.7" y2="853.08" stroke="#000" stroke-width="1.5"/>
<line x1="306.70" y1="845.29" x2="308.7" y2="845.29" stroke="#000" stroke-width="1.5"/>
<line x1="306.70" y1="837.50" x2="308.7" y2="837.50" stroke="#000" stroke-width="1.5"/>
<line x1="306.70" y1="829.70" x2="308.7" y2="829.70" stroke="#000" stroke-width="1.5"/>
<line x1="306.70" y1="821.91" x2="308.7" y2="821.91" stroke="#000" stroke-width="1.5"/>
<line x1="306.10" y1="814.12" x2="308.7" y2="814.12" stroke="#000" stroke-width="1.5"/>
<line x1="306.70" y1="806.33" x2="308.7" y2="806.33" stroke="#000" stroke-width="1.5"/>
<line x1="306.70" y1="798.54" x2="308.7" y2="798.54" stroke="#000" stroke-width="1.5"/>
<line x1="306.70" y1="790.74" x2="308.7" y2="790.74" stroke="#000" stroke-width="1.5"/>
<line x1="306.70" y1="782.95" x2="308.7" y2="782.95" stroke="#000" stroke-width="1.5"/>
<line x1="306.10" y1="775.16" x2="308.7" y2="775.16" stroke="#000" stroke-width="1.5"/>
<line x1="306.70" y1="767.37" x2="308.7" y2="767.37" stroke="#000" stroke-width="1.5"/>
<line x1="306.70" y1="759.58" x2="308.7" y2="759.58" stroke="#000" stroke-width="1.5"/>
<line x1="306.70" y1="751.78" x2="308.7" y2="751.78" stroke="#000" stroke-width="1.5"/>
<line x1="306.70" y1="743.99" x2="308.7" y2="743.99" stroke="#000" stroke-width="1.5"/>
<line x1="306.10" y1="736.20" x2="308.7" y2="736.20" stroke="#000" stroke-width="1.5"/>
<line x1="306.70" y1="728.41" x2="308.7" y2="728.41" stroke="#000" stroke-width="1.5"/>
<text transform="translate(303.40,932.57) rotate(-90) scale(1.0500,1) translate(-0.25,0)" font-size="6.3" font-weight="bold" fill="#000" stroke="#000" stroke-width="0.5">0</text>
<text transform="translate(303.40,895.47) rotate(-90) scale(1.0500,1) translate(-0.22,0)" font-size="6.3" font-weight="bold" fill="#000" stroke="#000" stroke-width="0.5">20</text>
<text transform="translate(303.40,856.57) rotate(-90) scale(1.0500,1) translate(-0.10,0)" font-size="6.3" font-weight="bold" fill="#000" stroke="#000" stroke-width="0.5">40</text>
<text transform="translate(303.40,817.54) rotate(-90) scale(1.0500,1) translate(-0.23,0)" font-size="6.3" font-weight="bold" fill="#000" stroke="#000" stroke-width="0.5">60</text>
<text transform="translate(303.40,778.60) rotate(-90) scale(1.0500,1) translate(-0.20,0)" font-size="6.3" font-weight="bold" fill="#000" stroke="#000" stroke-width="0.5">80</text>
<text transform="translate(303.40,741.37) rotate(-90) scale(1.0500,1) translate(-0.40,0)" font-size="6.3" font-weight="bold" fill="#000" stroke="#000" stroke-width="0.5">100</text>
<polyline points="340.1,928.0 341.7,927.8 343.4,927.6 345.1,927.3 346.8,927.2 348.5,926.9 349.9,926.1 351.6,925.3 353.1,924.7 354.7,923.9 355.6,922.5 356.7,921.3 357.7,920.0 358.7,918.7 359.8,917.5 361.0,916.2 361.8,914.9 362.8,913.7 363.9,912.3 364.9,911.1 365.9,909.9 366.8,908.5 367.8,906.8 368.5,905.4 369.3,903.8 370.0,902.1 370.6,900.8 371.7,899.2 371.9,897.8 372.2,896.0 373.2,894.7 373.4,892.8 374.3,891.6 374.4,890.0 375.2,888.1 375.6,887.0 375.4,885.5 375.8,884.0 376.6,882.6 376.8,880.8 377.5,879.1 377.5,877.6 377.8,875.9 378.1,874.5 378.1,873.1 378.2,871.4 378.2,869.7 378.0,868.0 379.2,865.3 379.3,863.6 379.5,861.5 379.8,860.0 380.0,858.1 380.4,856.6 380.5,854.8 381.1,853.5 381.1,852.0 380.9,850.1 381.4,848.5 381.3,847.1 381.5,845.3 381.9,843.7 381.9,842.2 382.1,840.5 381.7,838.5 382.0,837.1 382.7,835.2 382.7,833.6 382.6,832.0 383.3,830.5 383.7,828.6 383.9,827.3 383.9,825.6 384.0,823.6 384.4,822.0 385.7,820.4 385.6,818.9 385.4,817.4 385.4,815.8 386.0,813.6 386.4,812.4 386.5,811.0 386.4,809.2 386.9,807.3 387.2,805.6 386.5,804.4 386.7,802.7 386.9,801.1 387.3,799.5 387.5,798.0 388.3,796.2 388.7,794.6 388.5,792.4 389.4,791.3 389.6,790.1 389.5,788.3 390.4,786.7 391.1,785.4 391.1,783.6 392.2,782.2 392.5,780.9 392.4,779.0 393.8,777.8 394.5,775.9 395.0,773.7 396.1,773.1 397.5,772.3 397.4,774.0 398.2,771.6 399.0,770.4 398.9,768.4 399.0,767.3 400.0,764.3 401.2,763.2 403.2,763.6 404.6,763.8 405.5,765.1 405.9,766.9 404.8,768.7 405.5,769.7 405.7,771.0 405.1,773.3 405.4,774.2 405.8,776.2 405.0,777.4 404.3,779.7 404.8,781.7 404.6,782.7 404.9,784.7 404.7,786.3 404.3,787.8 405.2,789.3 405.8,790.5 405.7,792.5 406.1,793.8 405.7,795.2 407.0,797.2 406.2,798.5 406.9,800.3 407.5,802.2 407.3,803.8 407.3,805.2 407.8,806.6 408.3,808.5 408.9,809.4 408.4,811.5 408.6,813.3 409.0,814.8 408.9,816.5 409.3,817.6 409.5,819.3 409.5,821.3 410.2,822.9 410.3,824.4 410.6,826.2 411.4,828.1 411.9,829.0 411.6,830.5 412.2,832.5 412.6,833.2 412.3,834.9 413.1,836.6 413.3,838.4 413.3,839.4 414.4,841.1 413.9,842.2 414.0,843.6 414.7,845.5 415.3,847.0 415.0,848.4 416.0,849.7 415.7,851.5 416.1,852.9 416.2,854.6 416.3,855.9 416.5,857.3 416.7,858.9 417.1,860.6 417.6,861.9 417.7,863.6 418.0,865.1 418.2,866.6 418.2,868.4 418.9,870.0 419.0,871.5 419.1,872.7 419.6,874.6 419.7,876.0 420.3,877.4 420.7,879.3 421.1,880.7 420.9,882.2 421.2,883.8 421.4,885.5 421.9,886.9 422.6,888.4 423.0,890.0 423.5,891.4 424.1,893.0 424.9,894.5 425.2,896.0 425.5,897.6 426.0,899.3 426.7,900.7 427.1,902.4 427.7,903.8 428.3,905.4 428.9,906.9 429.6,908.5 430.3,909.9 430.9,911.6 431.6,912.9 432.5,914.0 433.6,915.3 434.5,916.4 435.3,917.6 436.7,918.6 437.8,919.6 439.0,920.4 440.2,921.5 441.6,922.3 442.9,923.1 444.6,923.9 446.2,924.6 447.8,925.4 449.2,926.2 450.7,927.0 452.2,927.7 453.8,928.5 455.3,928.8 456.9,929.1 458.4,929.4 460.0,929.7 461.5,930.0" fill="none" stroke="#000" stroke-width="1.35" stroke-dasharray="1.3 1.5"/>
<polyline points="312.0,928.3 313.0,928.3 313.0,928.6 314.1,928.6 314.1,928.5 315.1,928.5 315.1,928.7 316.1,928.7 316.1,928.7 317.2,928.7 317.2,928.6 318.2,928.6 318.2,928.9 319.2,928.9 319.2,928.5 320.2,928.5 320.2,928.4 321.3,928.4 321.3,928.4 322.3,928.4 322.3,928.3 323.3,928.3 323.3,928.5 324.4,928.5 324.4,928.2 325.4,928.2 325.4,928.5 326.3,928.5 326.3,928.5 327.3,928.5 327.3,928.5 328.2,928.5 328.2,928.1 329.2,928.1 329.2,928.4 330.1,928.4 330.1,927.8 331.1,927.8 331.1,927.9 332.1,927.9 332.1,927.3 333.0,927.3 333.0,927.5 333.9,927.5 333.9,927.1 334.9,927.1 334.9,927.6 335.8,927.6 335.8,927.0 336.8,927.0 336.8,926.1 337.7,926.1 337.7,926.4 338.6,926.4 338.6,926.3 339.5,926.3 339.5,925.8 340.5,925.8 340.5,925.7 341.4,925.7 341.4,925.4 342.3,925.4 342.3,925.1 343.2,925.1 343.2,923.9 344.1,923.9 344.1,924.1 345.1,924.1 345.1,924.3 346.0,924.3 346.0,923.8 346.9,923.8 346.9,922.1 347.8,922.1 347.8,921.3 348.7,921.3 348.7,921.2 349.7,921.2 349.7,921.6 350.6,921.6 350.6,920.7 351.5,920.7 351.5,919.6 352.4,919.6 352.4,919.5 353.4,919.5 353.4,918.3 354.3,918.3 354.3,918.2 355.3,918.2 355.3,916.6 356.2,916.6 356.2,914.9 357.2,914.9 357.2,915.2 358.2,915.2 358.2,914.8 359.2,914.8 359.2,911.9 360.1,911.9 360.1,912.3 361.0,912.3 361.0,912.7 362.0,912.7 362.0,910.8 362.9,910.8 362.9,909.9 363.8,909.9 363.8,912.2 364.7,912.2 364.7,910.3 365.7,910.3 365.7,910.0 366.6,910.0 366.6,907.1 367.6,907.1 367.6,909.5 368.5,909.5 368.5,905.0 369.5,905.0 369.5,904.8 370.5,904.8 370.5,904.8 371.5,904.8 371.5,904.0 372.2,904.0 372.2,898.0 373.0,898.0 373.0,895.2 374.1,895.2 374.1,894.4 375.1,894.4 375.1,889.1 376.2,889.1 376.2,891.0 376.9,891.0 376.9,887.8 377.7,887.8 377.7,883.0 378.7,883.0 378.7,883.7 379.8,883.7 379.8,883.1 380.8,883.1 380.8,881.3 381.5,881.3 381.5,879.7 381.9,879.7 381.9,878.4 382.4,878.4 382.4,871.5 382.9,871.5 382.9,869.5 383.3,869.5 383.3,865.0 384.1,865.0 384.1,867.6 385.0,867.6 385.0,864.2 386.1,864.2 386.1,862.5 387.3,862.5 387.3,858.3 388.3,858.3 388.3,857.8 389.2,857.8 389.2,861.0 390.2,861.0 390.2,856.8 391.1,856.8 391.1,858.9 392.0,858.9 392.0,856.4 392.8,856.4 392.8,856.3 393.6,856.3 393.6,851.9 393.9,851.9 393.9,851.2 394.2,851.2 394.2,847.7 394.5,847.7 394.5,841.3 394.8,841.3 394.8,840.2 395.6,840.2 395.6,840.5 396.5,840.5 396.5,841.9 396.9,841.9 396.9,848.3 397.3,848.3 397.3,847.0 397.7,847.0 397.7,848.3 398.1,848.3 398.1,844.7 398.4,844.7 398.4,844.3 398.8,844.3 398.8,840.5 399.7,840.5 399.7,843.7 400.6,843.7 400.6,846.7 401.1,846.7 401.1,852.8 401.7,852.8 401.7,853.0 402.1,853.0 402.1,850.2 402.5,850.2 402.5,844.4 402.9,844.4 402.9,844.4 403.4,844.4 403.4,843.7 404.0,843.7 404.0,841.1 404.9,841.1 404.9,834.1 405.8,834.1 405.8,841.7 406.9,841.7 406.9,845.0 408.0,845.0 408.0,844.9 409.2,844.9 409.2,841.3 410.4,841.3 410.4,845.8 410.9,845.8 410.9,845.0 411.5,845.0 411.5,841.8 411.8,841.8 411.8,835.8 412.1,835.8 412.1,832.4 412.4,832.4 412.4,833.9 413.8,833.9 413.8,831.8 413.9,831.8 413.9,841.7 414.0,841.7 414.0,841.6 414.1,841.6 414.1,845.5 414.2,845.5 414.2,845.1 414.3,845.1 414.3,850.0 414.4,850.0 414.4,856.1 415.6,856.1 415.6,856.1 416.5,856.1 416.5,862.5 417.3,862.5 417.3,854.0 418.1,854.0 418.1,852.6 419.0,852.6 419.0,853.5 420.1,853.5 420.1,852.2 421.3,852.2 421.3,850.4 422.1,850.4 422.1,849.1 423.0,849.1 423.0,850.5 423.1,850.5 423.1,853.4 423.3,853.4 423.3,855.6 423.5,855.6 423.5,854.4 423.6,854.4 423.6,864.7 424.2,864.7 424.2,867.2 424.8,867.2 424.8,871.1 425.6,871.1 425.6,867.2 426.5,867.2 426.5,866.5 427.6,866.5 427.6,866.6 428.8,866.6 428.8,867.1 429.8,867.1 429.8,870.1 430.8,870.1 430.8,865.2 431.9,865.2 431.9,871.2 433.0,871.2 433.0,871.0 434.2,871.0 434.2,876.3 435.4,876.3 435.4,883.4 436.4,883.4 436.4,878.9 437.5,878.9 437.5,880.6 438.5,880.6 438.5,879.8 439.5,879.8 439.5,882.4 440.5,882.4 440.5,879.1 441.5,879.1 441.5,877.9 442.6,877.9 442.6,884.0 443.8,884.0 443.8,884.8 444.3,884.8 444.3,888.0 444.9,888.0 444.9,893.2 445.4,893.2 445.4,893.3 446.5,893.3 446.5,896.4 447.7,896.4 447.7,899.4 448.7,899.4 448.7,899.3 449.8,899.3 449.8,897.5 450.8,897.5 450.8,899.1 451.9,899.1 451.9,903.7 453.0,903.7 453.0,903.3 454.2,903.3 454.2,909.1 455.4,909.1 455.4,907.7 456.3,907.7 456.3,912.3 457.3,912.3 457.3,911.1 458.2,911.1 458.2,912.4 459.2,912.4 459.2,912.7 460.4,912.7 460.4,914.8 461.5,914.8 461.5,916.6 462.5,916.6 462.5,917.9 463.6,917.9 463.6,919.7 464.6,919.7 464.6,920.1 465.6,920.1 465.6,919.5 466.7,919.5 466.7,919.9 467.7,919.9 467.7,920.3 468.7,920.3 468.7,920.7 469.8,920.7 469.8,923.4 470.8,923.4 470.8,923.4 471.7,923.4 471.7,922.9 472.6,922.9 472.6,922.4 473.6,922.4 473.6,921.9 474.5,921.9 474.5,923.3 475.4,923.3 475.4,922.8 476.4,922.8 476.4,922.8 477.5,922.8 477.5,924.9 478.5,924.9 478.5,924.9 479.5,924.9 479.5,926.3 480.5,926.3 480.5,926.3 481.5,926.3 481.5,927.2 482.5,927.2 482.5,928.1 483.6,928.1 483.6,928.2 484.6,928.2 484.6,928.5 485.6,928.5 485.6,928.3 486.7,928.3 486.7,928.8 487.8,928.8 487.8,928.9 488.8,928.9 488.8,928.9 489.9,928.9 489.9,929.0 490.9,929.0 490.9,929.2 491.9,929.2 491.9,929.4 493.0,929.4 493.0,929.5" fill="none" stroke="#000" stroke-width="2.6" stroke-linejoin="miter" stroke-miterlimit="2"/>
<text transform="translate(314.60,750.60) scale(1.0589,1) translate(-1.76,0)" font-size="42" fill="#000" >d</text>
<text transform="translate(160.00,696.60) scale(0.9887,1) translate(-1.39,0)" font-size="27.6" fill="#000" >GPA</text>
<text transform="translate(384.20,698.20) scale(1.0010,1) translate(-1.39,0)" font-size="27.6" fill="#000" >GPA</text>
<text transform="translate(119.80,957.50) scale(1.0126,1) translate(-1.39,0)" font-size="27.6" fill="#000" >GP</text>
<text transform="translate(165.50,958.00) scale(0.8102,1) translate(-5.29,0)" font-size="27.98" font-weight="400" font-family="Noto Serif CJK JP, serif">&#x2161;</text>
<text transform="translate(188.60,957.50) scale(0.9794,1) translate(-1.75,0)" font-size="27.2" fill="#000" >b/</text>
<text transform="translate(215.60,958.00) scale(0.6869,1) translate(-1.36,0)" font-size="27.18" font-weight="400" font-family="Noto Serif CJK JP, serif">&#x2162;</text>
<text transform="translate(238.60,957.50) scale(1.0020,1) translate(-1.16,0)" font-size="27.2" fill="#000" >a</text>
<text transform="translate(344.30,958.90) scale(1.0126,1) translate(-1.39,0)" font-size="27.6" fill="#000" >GP</text>
<text transform="translate(390.00,959.40) scale(0.8102,1) translate(-5.29,0)" font-size="27.98" font-weight="400" font-family="Noto Serif CJK JP, serif">&#x2161;</text>
<text transform="translate(413.10,958.90) scale(0.9794,1) translate(-1.75,0)" font-size="27.2" fill="#000" >b/</text>
<text transform="translate(440.10,959.40) scale(0.6869,1) translate(-1.36,0)" font-size="27.18" font-weight="400" font-family="Noto Serif CJK JP, serif">&#x2162;</text>
<text transform="translate(463.10,958.90) scale(1.0020,1) translate(-1.16,0)" font-size="27.2" fill="#000" >a</text>
<path d="M309.5 929 L309.5 916 L311.8 916 L311.8 921 L313.6 921 L313.6 929Z" fill="#000"/>
</svg>
</body></html>
